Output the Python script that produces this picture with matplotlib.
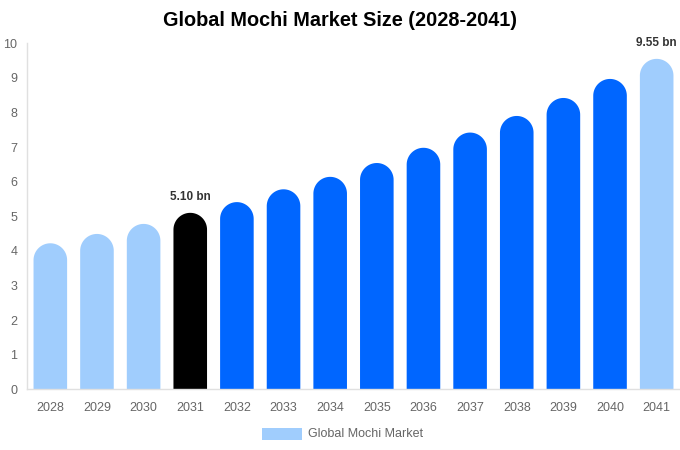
import numpy as np
import matplotlib.pyplot as plt
from matplotlib.patches import Rectangle, PathPatch
from matplotlib.path import Path

years = ["2028", "2029", "2030", "2031", "2032", "2033", "2034",
         "2035", "2036", "2037", "2038", "2039", "2040", "2041"]
values = [4.22, 4.49, 4.78, 5.10, 5.41, 5.78, 6.14,
          6.54, 6.98, 7.42, 7.90, 8.42, 8.97, 9.55]
bar_colors = ["#a0cdfd"] * 3 + ["#000000"] + ["#0066ff"] * 9 + ["#a0cdfd"]
labels = {"2031": "5.10 bn", "2041": "9.55 bn"}

plt.rcParams["font.family"] = ["Liberation Sans", "DejaVu Sans"]

fig = plt.figure(figsize=(6.8, 4.5), dpi=100)
ax = fig.add_axes([0.0397, 0.1349, 0.9603, 0.7689])
ax.set_xlim(-0.5, len(years) - 0.5)
ax.set_ylim(0, 10)

width = 0.72
# radius of the rounded top, converted to data units on each axis
px_x = ax.transData.transform((1, 0))[0] - ax.transData.transform((0, 0))[0]
px_y = ax.transData.transform((0, 1))[1] - ax.transData.transform((0, 0))[1]
rx = width / 2
ry = rx * px_x / px_y
theta = np.linspace(np.pi, 0, 40)


def rounded_bar(x, h):
    xs = [x - rx] + list(x + rx * np.cos(theta)) + [x + rx]
    ys = [0] + list(h - ry + ry * np.sin(theta)) + [0]
    verts = list(zip(xs, ys)) + [(x - rx, 0)]
    codes = [Path.MOVETO] + [Path.LINETO] * (len(verts) - 2) + [Path.CLOSEPOLY]
    return Path(verts, codes)


for i, (v, c) in enumerate(zip(values, bar_colors)):
    ax.add_patch(PathPatch(rounded_bar(i, v), facecolor=c, edgecolor="none"))
    if years[i] in labels:
        ax.text(i, v + 0.28, labels[years[i]], ha="center", va="bottom",
                fontsize=8.5, fontweight="bold", color="#333333")

ax.set_xticks(range(len(years)))
ax.set_xticklabels(years)
ax.set_yticks(range(0, 11))
ax.tick_params(axis="both", length=0, labelsize=9, colors="#666666")
ax.tick_params(axis="x", pad=9)
ax.tick_params(axis="y", pad=7)
for s in ["top", "right"]:
    ax.spines[s].set_visible(False)
for s in ["left", "bottom"]:
    ax.spines[s].set_color("#e0e0e0")
    ax.spines[s].set_linewidth(1)

fig.text(0.5, 1 - 21 / 450, "Global Mochi Market Size (2028-2041)",
         ha="center", va="center", fontsize=14.3, fontweight="bold",
         color="#000000")

# legend
fig.patches.append(Rectangle((262 / 680, 1 - 440 / 450), 40 / 680, 12 / 450,
                             transform=fig.transFigure, facecolor="#a0cdfd",
                             edgecolor="none"))
fig.text(308 / 680, 1 - 434 / 450, "Global Mochi Market", ha="left",
         va="center", fontsize=9, color="#666666")

fig.savefig("out.png", dpi=100)
